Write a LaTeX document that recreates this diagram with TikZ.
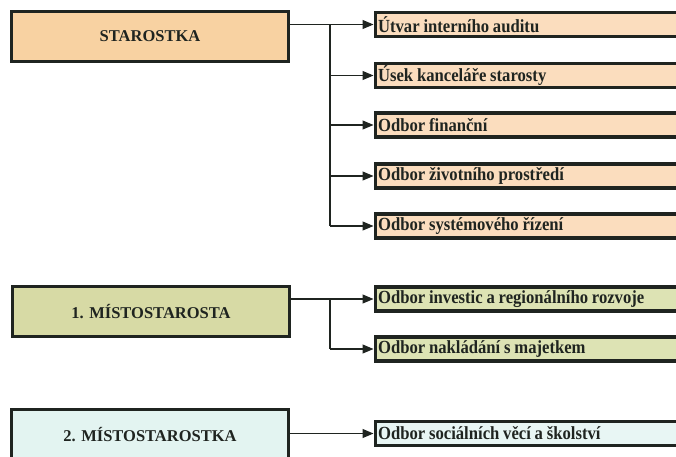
\documentclass[tikz,border=0pt]{standalone}
\usepackage{fontspec}
\setmainfont{Liberation Serif}
\newfontfamily\unitfont{Liberation Serif}[FakeStretch=0.9]
\usepackage{xcolor}
\usepackage{tikz}
\usetikzlibrary{arrows.meta}
\definecolor{ink}{HTML}{1F2420}
\definecolor{headorange}{HTML}{F8D2A2}
\definecolor{unitorange}{HTML}{FBDDBE}
\definecolor{headgreen}{HTML}{D7DAA5}
\definecolor{unitgreen}{HTML}{DDE3B4}
\definecolor{headcyan}{HTML}{E3F4F1}
\definecolor{unitcyan}{HTML}{E8F6F4}
\tikzset{
  head/.style={draw=ink, line width=3.2pt, minimum width=276.5pt, minimum height=49.5pt, inner sep=0pt, text=ink, font=\fontsize{16.5}{19}\selectfont\bfseries},
  unit/.style={draw=ink, line width=3.2pt, anchor=west, minimum height=24pt, text width=330pt, inner xsep=3pt, inner ysep=0pt, align=left, text=ink, font=\unitfont\fontsize{18.5}{21}\selectfont\bfseries, execute at begin node={\spaceskip=3.8pt\relax}},
  line/.style={draw=ink, line width=1.1pt},
  arr/.style={line, -{Triangle[length=11pt,width=9pt]}},
}
\begin{document}
\begin{tikzpicture}[x=1pt,y=-1pt]
  \useasboundingbox (0,0) rectangle (676,456);
  \clip (0,0) rectangle (676,456);
  \fill[white] (0,0) rectangle (676,456);

  \node[head,fill=headorange] (star) at (150,36.5) {STAROSTKA};
  \node[head,fill=headgreen] (mist1) at (151,311.5) {1. MÍSTOSTAROSTA};
  \node[head,fill=headcyan] (mist2) at (150,434.5) {2. MÍSTOSTAROSTKA};

  \node[unit,fill=unitorange] (audit) at (373.5,24.5) {Útvar interního auditu};
  \node[unit,fill=unitorange] (kanc) at (373.5,75.5) {Úsek kanceláře starosty};
  \node[unit,fill=unitorange] (fin) at (373.5,125) {Odbor finanční};
  \node[unit,fill=unitorange] (zivot) at (373.5,176) {Odbor životního prostředí};
  \node[unit,fill=unitorange] (syst) at (373.5,226) {Odbor systémového řízení};
  \node[unit,fill=unitgreen] (invest) at (373.5,299) {Odbor investic a regionálního rozvoje};
  \node[unit,fill=unitgreen] (majet) at (373.5,349) {Odbor nakládání s majetkem};
  \node[unit,fill=unitcyan] (social) at (373.5,433.5) {Odbor sociálních věcí a školství};

  \coordinate (sj) at (330,24.5);
  \coordinate (mj) at (330,299);

  \draw[line] (sj-|star.east)--(sj);
  \draw[line] (sj)--(sj|-syst.west);
  \draw[arr] (sj)--(audit.west);
  \draw[arr] (sj|-kanc.west)--(kanc.west);
  \draw[arr] (sj|-fin.west)--(fin.west);
  \draw[arr] (sj|-zivot.west)--(zivot.west);
  \draw[arr] (sj|-syst.west)--(syst.west);

  \draw[line] (mj-|mist1.east)--(mj);
  \draw[line] (mj)--(mj|-majet.west);
  \draw[arr] (mj)--(invest.west);
  \draw[arr] (mj|-majet.west)--(majet.west);

  \draw[arr] (mist2.east|-social.west)--(social.west);
\end{tikzpicture}
\end{document}
